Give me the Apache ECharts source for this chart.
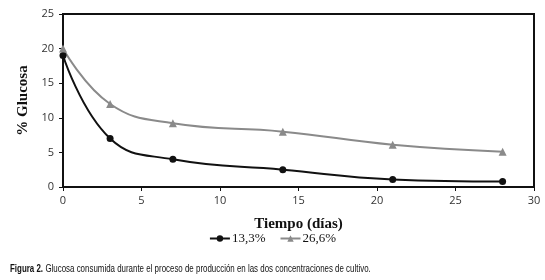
<!DOCTYPE html>
<html>
<head>
<meta charset="utf-8">
<script src="https://cdn.jsdelivr.net/npm/echarts@6/dist/echarts.min.js"></script>
<style>
  html, body { margin: 0; padding: 0; background: #fff; }
  #chart { width: 545px; height: 280px; }
</style>
</head>
<body>
<div id="chart"></div>
<script>
// days sampled
const dias = [0, 3, 7, 14, 21, 28]
// glucose (%) for each culture concentration
const glucosa133 = [19, 7, 4, 2.5, 1.1, 0.8]
const glucosa266 = [20, 12, 9.2, 8, 6.1, 5.1]

const serieNames = ['13,3%', '26,6%']
const xMax = 30
const yMax = 25

const toPairs = (xs, ys) => xs.map((x, i) => [x, ys[i]])

const chart = echarts.init(document.getElementById('chart'))
chart.setOption({
  animation: false,
  grid: {
    left: 63,
    right: 11,
    top: 14,
    bottom: 93,
    show: true,
    backgroundColor: 'transparent',
    borderColor: '#111111',
    borderWidth: 2
  },
  legend: {
    data: serieNames,
    left: 'center',
    top: 227,
    itemWidth: 20,
    itemHeight: 8,
    itemGap: 14,
    textStyle: {
      fontFamily: 'Liberation Serif',
      fontSize: 13,
      color: '#111',
      padding: [0, 0, 0, -3]
    }
  },
  xAxis: {
    type: 'value',
    min: 0,
    max: xMax,
    interval: 5,
    name: 'Tiempo (días)',
    nameLocation: 'middle',
    nameGap: 30,
    nameTextStyle: {
      fontFamily: 'Liberation Serif',
      fontWeight: 'bold',
      fontSize: 15,
      color: '#111'
    },
    axisLine: { lineStyle: { color: '#111', width: 2 } },
    axisTick: { show: true, length: 4, lineStyle: { color: '#111' } },
    axisLabel: { color: '#333', fontSize: 11, fontFamily: 'Open Sans', margin: 8 },
    splitLine: { show: false }
  },
  yAxis: {
    type: 'value',
    min: 0,
    max: yMax,
    interval: 5,
    name: '% Glucosa',
    nameLocation: 'middle',
    nameGap: 19,
    nameTextStyle: {
      fontFamily: 'Liberation Serif',
      fontWeight: 'bold',
      fontSize: 15,
      color: '#111'
    },
    axisLine: { show: true, lineStyle: { color: '#111', width: 2 } },
    axisTick: { show: true, length: 4, lineStyle: { color: '#111' } },
    axisLabel: { color: '#333', fontSize: 11, fontFamily: 'Open Sans', margin: 9 },
    splitLine: { show: false }
  },
  series: [
    {
      name: serieNames[0],
      type: 'line',
      smooth: 0.45,
      data: toPairs(dias, glucosa133),
      symbol: 'circle',
      symbolSize: 7,
      lineStyle: { color: '#111', width: 2 },
      itemStyle: { color: '#111' },
      // top and right edges of the plot frame
      markLine: {
        silent: true,
        symbol: 'none',
        animation: false,
        label: { show: false },
        lineStyle: { color: '#111', width: 2, type: 'solid' },
        emphasis: { disabled: true },
        data: [{ yAxis: yMax }, { xAxis: xMax }]
      }
    },
    {
      name: serieNames[1],
      type: 'line',
      smooth: 0.45,
      data: toPairs(dias, glucosa266),
      symbol: 'triangle',
      symbolSize: 8,
      lineStyle: { color: '#8a8a8a', width: 2 },
      itemStyle: { color: '#8a8a8a' }
    }
  ],
  graphic: [
    {
      id: 'caption',
      type: 'text',
      left: 10,
      top: 263,
      scaleX: 0.72,
      style: {
        rich: {
          b: { fontFamily: 'Liberation Sans', fontWeight: 'bold', fontSize: 11, fill: '#111' },
          n: { fontFamily: 'Liberation Sans', fontSize: 11, fill: '#111' }
        },
        text: '{b|Figura 2.} {n|Glucosa consumida durante el proceso de producción en las dos concentraciones de cultivo.}'
      }
    }
  ]
})
</script>
</body>
</html>
